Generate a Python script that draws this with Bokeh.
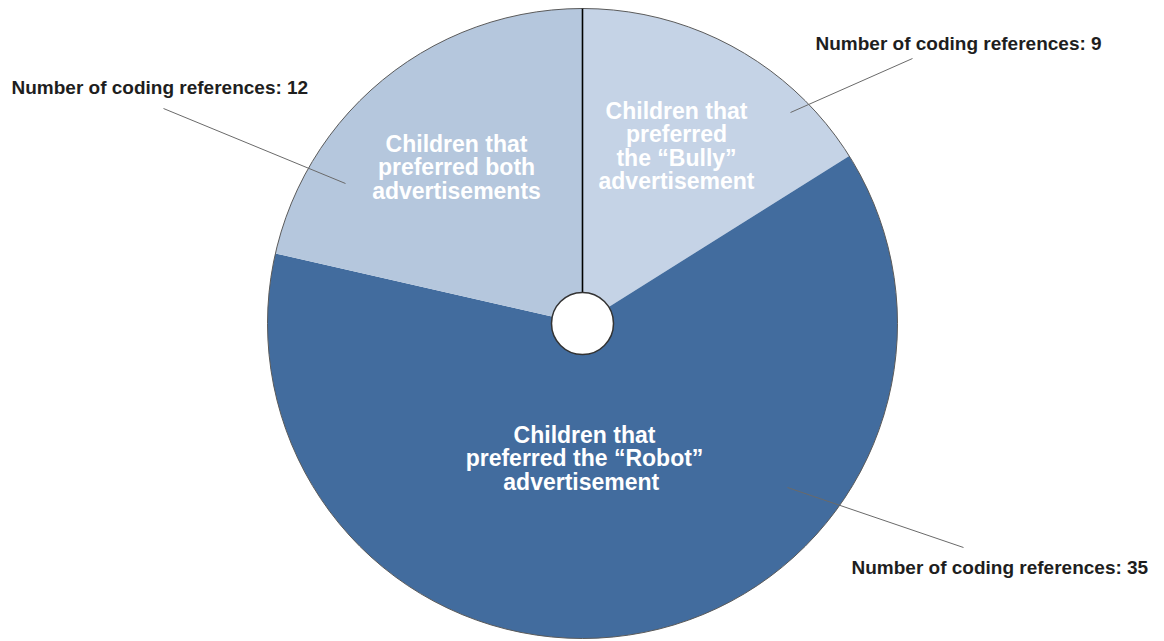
import numpy as np
from bokeh.plotting import figure
from bokeh.models import Range1d
from bokeh.embed import file_html
from bokeh.resources import INLINE
from bokeh.core.properties import value

# ---- data ----
categories = ["Bully", "Robot", "Both"]
counts = [9, 35, 12]
slice_colors = ["#c5d3e6", "#426c9e", "#b5c7dd"]
slice_labels = [
    ["Children that", "preferred", "the \u201cBully\u201d", "advertisement"],
    ["Children that", "preferred the \u201cRobot\u201d", " advertisement"],
    ["Children that", "preferred both", "advertisements"],
]
callout_texts = ["Number of coding references: %d" % c for c in counts]

# ---- layout (pixel coords, y measured from top) ----
W, H = 1164, 641
CX, CY_TOP = 582, 323
R = 315
HOLE_R = 31
slice_label_pos = [(676, 110), (584, 434), (456, 143)]
line_step = 23.5
callout_pos = [(815, 43), (851, 567), (11, 87)]
leader_lines = [((912, 58), (790, 112)), ((963, 547), (787, 487)), ((163, 108), (345, 183))]


def fy(y):
    return H - y


CY = fy(CY_TOP)

p = figure(width=W, height=H, x_range=Range1d(0, W), y_range=Range1d(0, H),
           output_backend="svg", toolbar_location=None, min_border=0,
           x_axis_location=None, y_axis_location=None)
p.grid.visible = False
p.outline_line_color = None
p.background_fill_color = "white"
p.border_fill_color = "white"

total = float(sum(counts))
frac = np.array(counts) / total
cum = np.concatenate([[0.0], np.cumsum(frac)])
starts = np.pi / 2 - cum[:-1] * 2 * np.pi
ends = np.pi / 2 - cum[1:] * 2 * np.pi

p.wedge(x=[CX] * len(counts), y=[CY] * len(counts), radius=R,
        start_angle=list(starts), end_angle=list(ends), direction="clock",
        fill_color=slice_colors, line_color=None)

# outer edge
p.circle(x=[CX], y=[CY], radius=R, fill_color=None, line_color="#5a5a5a", line_width=1)

# black separator between "Both" and "Bully"
a = starts[0]
p.segment(x0=[CX], y0=[CY], x1=[CX + R * np.cos(a)], y1=[CY + R * np.sin(a)],
          line_color="black", line_width=1.6)

# centre hole
p.circle(x=[CX], y=[CY], radius=HOLE_R, fill_color="white", line_color="#333333", line_width=1.5)

# slice labels
for (lx, ly), lines in zip(slice_label_pos, slice_labels):
    ys = [fy(ly + i * line_step) for i in range(len(lines))]
    p.text(x=[lx] * len(lines), y=ys, text=lines, text_align="center",
           text_baseline="middle", text_color="white", text_font=value("Liberation Sans"),
           text_font_size="23px", text_font_style="bold")

# leader lines
p.segment(x0=[l[0][0] for l in leader_lines], y0=[fy(l[0][1]) for l in leader_lines],
          x1=[l[1][0] for l in leader_lines], y1=[fy(l[1][1]) for l in leader_lines],
          line_color="#6a6a6a", line_width=1)

# callouts
p.text(x=[c[0] for c in callout_pos], y=[fy(c[1]) for c in callout_pos], text=callout_texts,
       text_align="left", text_baseline="middle", text_color="#1e1e1e",
       text_font=value("Liberation Sans"), text_font_size="19px", text_font_style="bold")

open("out.html", "w").write(file_html(p, INLINE))
